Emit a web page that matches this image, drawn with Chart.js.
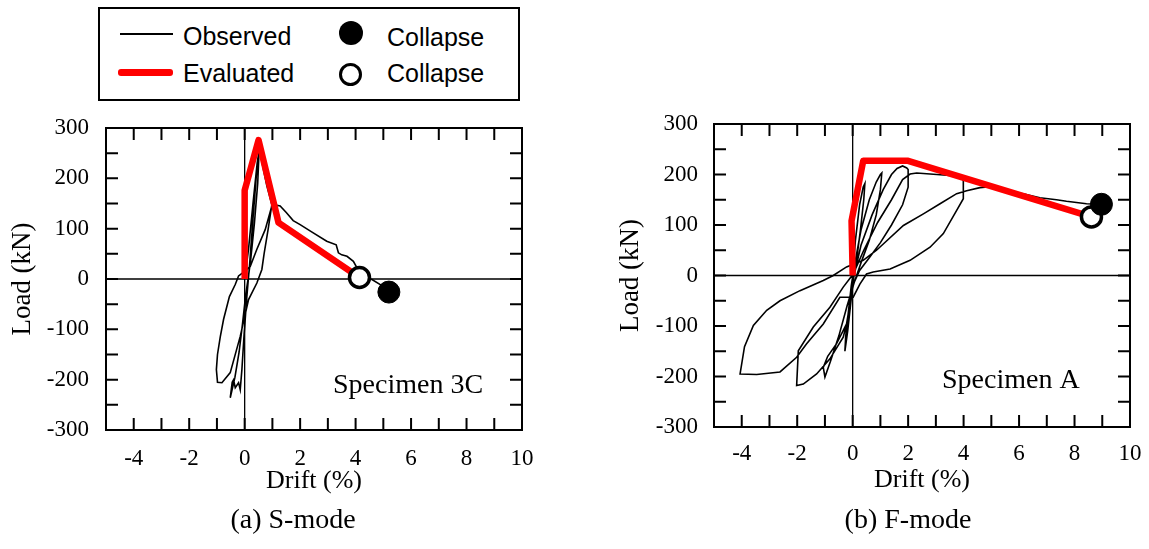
<!DOCTYPE html>
<html>
<head>
<meta charset="utf-8">
<script src="https://cdn.jsdelivr.net/npm/chart.js@4.4.0/dist/chart.umd.min.js"></script>
<style>
  html, body { margin: 0; padding: 0; background: #fff; }
  #page { position: relative; width: 1149px; height: 549px; overflow: hidden; background: #fff; }
  canvas { position: absolute; }
  .legend { position: absolute; left: 98px; top: 7px; width: 418px; height: 90px; border: 2px solid #000;
    font-family: "Liberation Sans", Arial, sans-serif; font-size: 25px; line-height: 25px; color: #000; }
  .legend span, .legend i { position: absolute; display: block; font-style: normal; white-space: nowrap; }
  .caption { position: absolute; width: 300px; text-align: center; font-family: "Liberation Serif", "Times New Roman", serif;
    font-size: 28px; line-height: 28px; color: #000; }
</style>
</head>
<body>
<div id="page">
  <div class="legend">
    <i style="left:20px; top:24px; width:53px; height:2px; background:#000;"></i>
    <span style="left:83px; top:15px;">Observed</span>
    <i style="left:18px; top:60px; width:55px; height:7px; background:#ff0000; border-radius:3px;"></i>
    <span style="left:83px; top:52px;">Evaluated</span>
    <i style="left:239px; top:12px; width:24px; height:24px; border-radius:50%; background:#000;"></i>
    <span style="left:287px; top:16px;">Collapse</span>
    <i style="left:239px; top:54px; width:23px; height:23px; box-sizing:border-box; border:3.5px solid #000; border-radius:50%; background:#fff;"></i>
    <span style="left:287px; top:52px;">Collapse</span>
  </div>
  <canvas id="chartS" width="545" height="400" style="left:0; top:110px;"></canvas>
  <canvas id="chartF" width="541" height="400" style="left:608px; top:110px;"></canvas>
  <div class="caption" style="left:143px; top:505px;">(a) S-mode</div>
  <div class="caption" style="left:758px; top:505px;">(b) F-mode</div>
</div>
<script>
// tick labels
const driftLabels = [-4, -2, 0, 2, 4, 6, 8, 10];
const loadLabels = [-300, -200, -100, 0, 100, 200, 300];

// (a) S-mode, Specimen 3C
const sObsDrift = [0, 0.14, 0.3, 0.45, 0.52, 0.47, 0.35, 0.22, 0.14, 0.04, -0.08, -0.2, -0.35, -0.52, -0.45, -0.4, -0.34, -0.22, -0.16, -0.1, -0.02, 0.08, 0.18, 0.3, 0.42, 0.5, 0.55, 0.65, 0.8, 0.98, 0.85, 0.7, 0.62, 0.44, 0.14, -0.16, -0.52, -0.82, -0.98, -1.02, -0.98, -0.88, -0.76, -0.55, -0.34, -0.22, 0, 0.2, 0.44, 0.74, 0.98, 1.04, 1.28, 1.5, 1.75, 2.0, 2.4, 2.96, 3.3, 3.38, 3.5, 3.69, 3.92, 4.05, 4.14, 4.4, 4.59, 4.89, 5.19];
const sObsLoad = [0, 60, 150, 230, 255, 190, 110, 40, 6, -30, -90, -145, -195, -236, -205, -200, -216, -206, -220, -180, -110, -34, 30, 120, 205, 245, 258, 225, 185, 148, 100, 50, 19, -8, -41, -114, -186, -206, -205, -180, -150, -115, -80, -35, -11, 6, 15, 25, 59, 98, 145, 148, 145, 132, 116, 108, 94, 75, 68, 52, 48, 45, 35, 22, 4, 2, -1, -11, -24];
const sEvalDrift = [0, 0, 0.5, 1.22, 4.14];
const sEvalLoad = [0, 176, 276, 112, 3];
const sObsCollapse = [5.2, -26];
const sEvalCollapse = [4.14, 3];

// (b) F-mode, Specimen A
const fObsDrift = [0, 0.1, 0.25, 0.38, 0.44, 0.4, 0.28, 0.15, 0.02, -0.08, -0.18, -0.28, -0.25, -0.15, -0.05, 0.05,
  0.3, 0.6, 0.85, 1.0, 1.05, 1.0, 0.85, 0.6, 0.3, 0.05, -0.2, -0.5, -0.8, -1.0, -1.06, -0.9, -0.58, -0.22, -0.05, 0.05,
  0.3, 0.7, 1.1, 1.4, 1.6, 1.8, 1.95, 2.0, 2.0, 1.8, 1.4, 1.0, 0.6, 0.25, 0, -0.1, -0.34, -0.82, -1.3, -1.78, -2.02, -1.96, -1.42, -0.82, -0.34, 0.02,
  0.4, 0.9, 1.4, 1.8, 2.07, 2.31, 2.79, 3.51, 3.87, 3.99, 3.99, 3.75, 3.27, 2.79, 2.07, 1.35, 0.74, 0.5, 0.26, 0.02,
  -0.46, -1.06, -1.66, -2.02, -2.62, -3.46, -4.06, -3.9, -3.58, -3.1, -2.62, -1.9, -1.06, -0.7, -0.22,
  0.38, 0.86, 1.83, 2.55, 3.15, 3.75, 4.11, 4.59, 4.95, 5.67, 6.15, 6.75, 7.35, 7.71, 8.43, 8.97];
const fObsLoad = [0, 70, 140, 175, 182, 150, 90, 35, -10, -60, -110, -150, -120, -70, -20, 15,
  90, 150, 185, 200, 203, 170, 120, 70, 25, -15, -60, -120, -170, -201, -182, -160, -135, -96, -40, 0,
  60, 120, 170, 200, 212, 217, 213, 210, 175, 140, 100, 65, 35, 10, -20, -69, -122, -165, -195, -215, -218, -149, -102, -63, -23, 3,
  50, 105, 150, 190, 201, 203, 201, 198, 195, 188, 152, 129, 83, 56, 30, 13, 7, 3, -17, -43,
  -43, -96, -135, -162, -191, -196, -195, -141, -99, -69, -50, -30, -10, 0, 17,
  30, 50, 99, 122, 142, 162, 168, 174, 176, 165, 162, 154, 150, 147, 142, 141];
const fEvalDrift = [0, -0.04, 0.38, 2.0, 8.61];
const fEvalLoad = [0, 108, 227, 227, 116];
const fObsCollapse = [8.97, 141];
const fEvalCollapse = [8.61, 116];

const serif = '"Liberation Serif", "Times New Roman", serif';

function toPoints(xs, ys) {
  return xs.map((x, i) => ({ x: x, y: ys[i] }));
}

// box, inward tick marks, zero lines and specimen name
const frameTicks = {
  id: "frameTicks",
  beforeDatasetsDraw(chart) {
    const { ctx, chartArea: a, scales } = chart;
    const x0 = scales.x.getPixelForValue(0);
    const y0 = scales.y.getPixelForValue(0);
    ctx.save();
    ctx.strokeStyle = "#000";
    ctx.lineWidth = 1.3;
    ctx.beginPath();
    ctx.moveTo(x0, a.top);
    ctx.lineTo(x0, a.bottom);
    ctx.moveTo(a.left, y0);
    ctx.lineTo(a.right, y0);
    ctx.stroke();
    ctx.restore();
  },
  afterDatasetsDraw(chart, args, opts) {
    const { ctx, chartArea: a, scales } = chart;
    const len = 12;
    ctx.save();
    ctx.strokeStyle = "#000";
    ctx.lineWidth = 2;
    ctx.beginPath();
    scales.x.ticks.forEach((t) => {
      const px = scales.x.getPixelForValue(t.value);
      if (px < a.left + 2 || px > a.right - 2) return;
      ctx.moveTo(px, a.top);
      ctx.lineTo(px, a.top + len);
      ctx.moveTo(px, a.bottom);
      ctx.lineTo(px, a.bottom - len);
    });
    scales.y.ticks.forEach((t) => {
      const py = scales.y.getPixelForValue(t.value);
      if (py < a.top + 2 || py > a.bottom - 2) return;
      ctx.moveTo(a.left, py);
      ctx.lineTo(a.left + len, py);
      ctx.moveTo(a.right, py);
      ctx.lineTo(a.right - len, py);
    });
    ctx.stroke();
    ctx.strokeRect(a.left, a.top, a.right - a.left, a.bottom - a.top);
    ctx.fillStyle = "#000";
    ctx.font = "28px " + serif;
    ctx.textAlign = "left";
    ctx.textBaseline = "alphabetic";
    ctx.fillText(opts.label, a.left + opts.labelX, a.bottom - opts.labelY);
    ctx.restore();
  },
};

function makeChart(id, d) {
  return new Chart(document.getElementById(id), {
    type: "scatter",
    data: {
      datasets: [
        {
          label: "Collapse",
          data: [{ x: d.obsCollapse[0], y: d.obsCollapse[1] }],
          pointRadius: 11,
          pointBackgroundColor: "#000",
          pointBorderColor: "#000",
          pointBorderWidth: 1,
        },
        {
          label: "Collapse",
          data: [{ x: d.evalCollapse[0], y: d.evalCollapse[1] }],
          pointRadius: 10,
          pointBackgroundColor: "#fff",
          pointBorderColor: "#000",
          pointBorderWidth: 3.5,
        },
        {
          label: "Evaluated",
          data: toPoints(d.evalDrift, d.evalLoad),
          showLine: true,
          borderColor: "#ff0000",
          borderWidth: 6.5,
          borderJoinStyle: "round",
          pointRadius: 0,
        },
        {
          label: "Observed",
          data: toPoints(d.obsDrift, d.obsLoad),
          showLine: true,
          borderColor: "#000",
          borderWidth: 1.6,
          pointRadius: 0,
        },
      ],
    },
    options: {
      responsive: false,
      animation: false,
      devicePixelRatio: 1,
      layout: { padding: { top: d.padTop, right: d.padRight, left: 0, bottom: 0 } },
      plugins: {
        legend: { display: false },
        tooltip: { enabled: false },
        frameTicks: { label: d.label, labelX: d.labelX, labelY: d.labelY },
      },
      scales: {
        x: {
          type: "linear",
          min: -5,
          max: 10,
          grid: { display: false, drawTicks: false },
          border: { display: false },
          afterFit: (s) => {
            s.height = d.xHeight;
            s.paddingLeft = 0;
            s.paddingRight = 0;
          },
          ticks: {
            stepSize: 1,
            autoSkip: false,
            maxRotation: 0,
            padding: d.xTickPad,
            color: "#000",
            font: { family: serif, size: 23 },
            callback: (v) => (driftLabels.includes(v) ? String(v) : ""),
          },
          title: {
            display: true,
            text: "Drift (%)",
            color: "#000",
            font: { family: serif, size: 26 },
            padding: { top: 0, bottom: d.xTitlePad },
          },
        },
        y: {
          type: "linear",
          min: -300,
          max: 300,
          grid: { display: false, drawTicks: false },
          border: { display: false },
          afterFit: (s) => {
            s.width = 106;
            s.paddingTop = 0;
            s.paddingBottom = 0;
          },
          ticks: {
            stepSize: 50,
            autoSkip: false,
            padding: d.yTickPad,
            color: "#000",
            font: { family: serif, size: 23 },
            callback: (v) => (loadLabels.includes(v) ? String(v) : ""),
          },
          title: {
            display: true,
            text: "Load (kN)",
            color: "#000",
            font: { family: serif, size: 27 },
            padding: { top: 7, bottom: 0 },
          },
        },
      },
    },
    plugins: [frameTicks],
  });
}

makeChart("chartS", {
  obsDrift: sObsDrift, obsLoad: sObsLoad, evalDrift: sEvalDrift, evalLoad: sEvalLoad,
  obsCollapse: sObsCollapse, evalCollapse: sEvalCollapse,
  label: "Specimen 3C", labelX: 227, labelY: 37,
  padTop: 18, padRight: 23, xHeight: 80, xTickPad: 15, xTitlePad: 13, yTickPad: 17,
});

makeChart("chartF", {
  obsDrift: fObsDrift, obsLoad: fObsLoad, evalDrift: fEvalDrift, evalLoad: fEvalLoad,
  obsCollapse: fObsCollapse, evalCollapse: fEvalCollapse,
  label: "Specimen A", labelX: 228, labelY: 39,
  padTop: 14, padRight: 19, xHeight: 83, xTickPad: 13, xTitlePad: 14, yTickPad: 16,
});
</script>
</body>
</html>
